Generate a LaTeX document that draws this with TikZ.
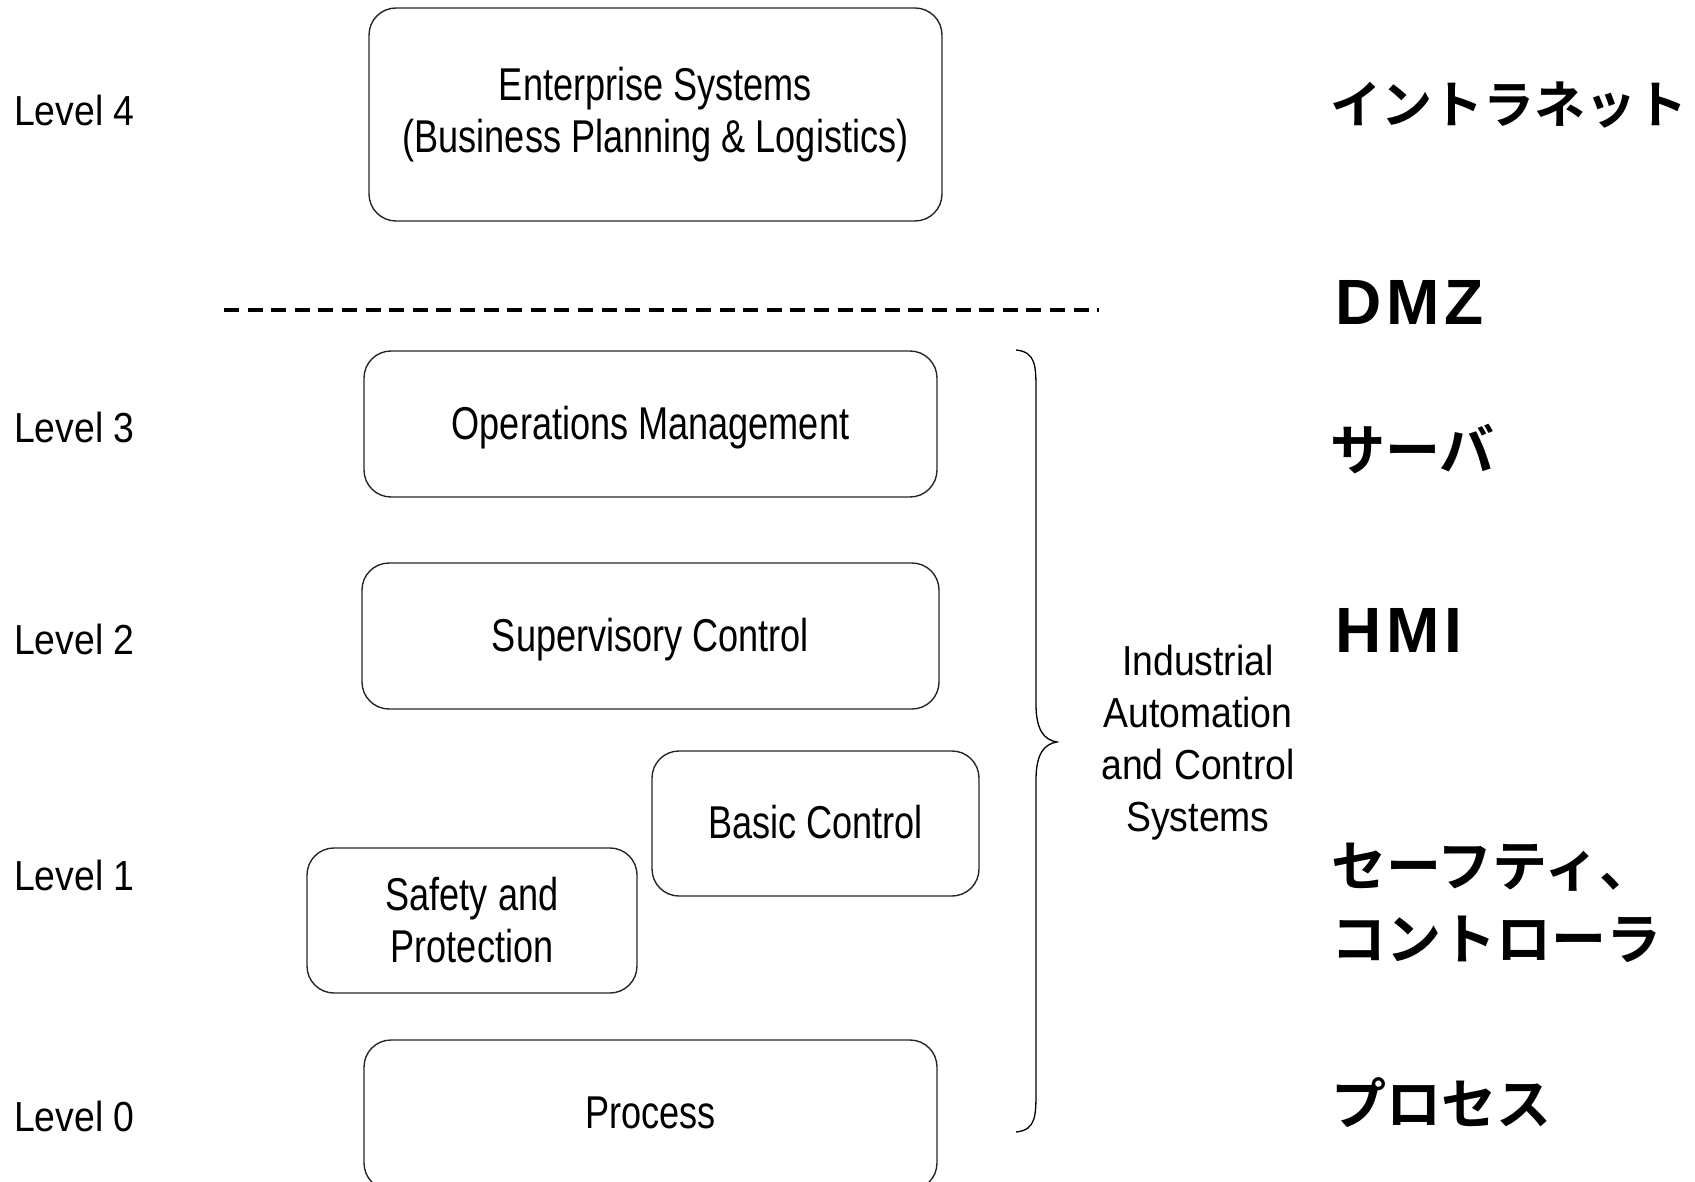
\documentclass[tikz,border=0pt]{standalone}
\usepackage{fontspec}
\setmainfont{Liberation Sans}
\newfontfamily\boxfont[FakeStretch=0.785]{Liberation Sans}
\newfontfamily\lblfont[FakeStretch=0.89]{Liberation Sans}
\newfontfamily\wideboldfont[LetterSpace=8]{Liberation Sans Bold}
\newfontfamily\jpfont[BoldFont={* Bold}]{Noto Sans CJK JP}
\begin{document}
\begin{tikzpicture}[x=1pt,y=-1pt,
  layerbox/.style={draw=black!85,line width=1.4pt,rounded corners=27pt,
    inner sep=0pt,align=center,font=\boxfont\fontsize{46}{52}\selectfont},
  oneline/.style={text depth=0.22em},
  levellbl/.style={anchor=west,inner sep=0pt,font=\lblfont\fontsize{42}{44}\selectfont},
  zonelbl/.style={anchor=west,inner sep=0pt,font=\jpfont\bfseries\fontsize{55}{73}\selectfont,align=left},
  zonelatin/.style={anchor=west,inner sep=0pt,font=\wideboldfont\fontsize{64}{66}\selectfont}]
\useasboundingbox (0,0) rectangle (1695,1182);
\clip (0,0) rectangle (1695,1182);

% layer boxes
\node[layerbox,minimum width=573pt,minimum height=213pt] (ent) at (655.5,114.5)
  {Enterprise Systems\\(Business Planning \& Logistics)};
\node[layerbox,oneline,minimum width=573pt,minimum height=146pt] (ops) at (650.5,424)
  {Operations Management};
\node[layerbox,oneline,minimum width=577pt,minimum height=146pt] (sup) at (650.5,636)
  {Supervisory Control};
\node[layerbox,oneline,text depth=0.3em,minimum width=327pt,minimum height=145pt] (basic) at (815.5,823.5)
  {Basic Control};
\node[layerbox,minimum width=330pt,minimum height=145pt] (safety) at (472,920.5)
  {Safety and\\Protection};
\node[layerbox,oneline,text depth=0.4em,minimum width=573pt,minimum height=150pt] (proc) at (650.5,1115)
  {Process};

% boundary between enterprise and control zones
\coordinate (dmzL) at (224,310);
\coordinate (dmzR) at (1099,310);
\draw[line width=4.5pt,dash pattern=on 15pt off 8.6pt] (dmzL) -- (dmzR);

% brace grouping levels 0-3
\coordinate (brTop) at (1016,350);
\coordinate (brTip) at (1057,742);
\coordinate (brBot) at (1016,1132);
\draw[line width=1.3pt] (brTop) .. controls (1036,352) and (1036,366) .. (1036,392)
  -- (1036,704) .. controls (1036,730) and (1044,740) .. (brTip)
  .. controls (1044,744) and (1036,754) .. (1036,780)
  -- (1036,1090) .. controls (1036,1116) and (1036,1130) .. (brBot);
\node[align=center,inner sep=0pt,font=\lblfont\fontsize{42}{52}\selectfont] (iacs) at (1198,743)
  {Industrial\\Automation\\and Control\\Systems};

% level numbers
\node[levellbl] (l4) at (14,110) {Level 4};
\node[levellbl] (l3) at (14,427) {Level 3};
\node[levellbl] (l2) at (14,639) {Level 2};
\node[levellbl] (l1) at (14,875) {Level 1};
\node[levellbl] (l0) at (14,1116) {Level 0};

% zone names
\node[zonelbl,font=\jpfont\bfseries\fontsize{51}{73}\selectfont] (zintra) at (1330,105) {イントラネット};
\node[zonelatin] (zdmz) at (1335,302) {DMZ};
\node[zonelbl] (zsrv) at (1330,449) {サーバ};
\node[zonelatin] (zhmi) at (1335,630) {HMI};
\node[zonelbl] (zctl) at (1331,903) {セーフティ、\\コントローラ};
\node[zonelbl] (zproc) at (1331,1103) {プロセス};
\end{tikzpicture}
\end{document}
